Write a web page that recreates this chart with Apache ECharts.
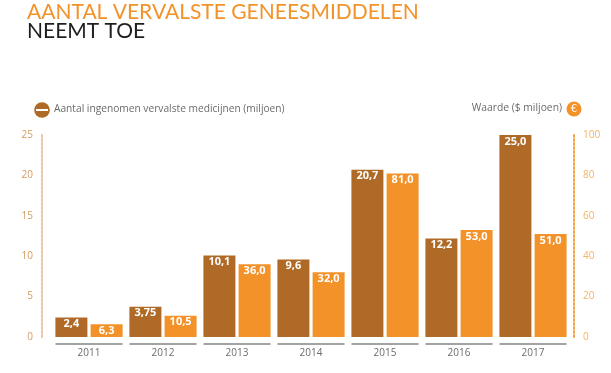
<!DOCTYPE html>
<html>
<head>
<meta charset="utf-8">
<script src="https://cdn.jsdelivr.net/npm/echarts@6/dist/echarts.min.js"></script>
<style>html,body{margin:0;padding:0;background:#fff;}#c{width:611px;height:373px;}</style>
</head>
<body>
<div id="c"></div>
<script>
const categories = ['2011', '2012', '2013', '2014', '2015', '2016', '2017'];
const aantal = [2.4, 3.75, 10.1, 9.6, 20.7, 12.2, 25.0];
const waarde = [6.3, 10.5, 36.0, 32.0, 81.0, 53.0, 51.0];
const titleLine1 = 'AANTAL VERVALSTE GENEESMIDDELEN';
const titleLine2 = 'NEEMT TOE';
const legendLeft = 'Aantal ingenomen vervalste medicijnen (miljoen)';
const legendRight = 'Waarde ($ miljoen)';

const BROWN = '#b06a27';
const ORANGE = '#f39229';
const fmt = v => (Number.isInteger(v) ? v.toFixed(1) : String(v)).replace('.', ',');

const chart = echarts.init(document.getElementById('c'));
chart.setOption({
  animation: false,
  title: [
    { text: titleLine1, left: 22, top: -3, textStyle: { color: ORANGE, fontSize: 21, fontWeight: 'normal', fontFamily: 'Lato' } },
    { text: titleLine2, left: 22, top: 16, textStyle: { color: '#1e1e1e', fontSize: 21, fontWeight: 'normal', fontFamily: 'Lato' } }
  ],
  graphic: [
    { type: 'circle', shape: { cx: 42, cy: 110, r: 7.8 }, style: { fill: BROWN } },
    { type: 'rect', shape: { x: 36, y: 109, width: 12, height: 2 }, style: { fill: '#fff' } },
    { type: 'text', left: 54, top: 104, style: { text: legendLeft, fill: '#6b6b6b', fontSize: 10.2, fontFamily: 'Open Sans' } },
    { type: 'text', right: 49, top: 103, style: { text: legendRight, fill: '#6b6b6b', fontSize: 10.3, fontFamily: 'Open Sans' } },
    { type: 'circle', shape: { cx: 574, cy: 109, r: 7.5 }, style: { fill: ORANGE } },
    { type: 'text', x: 574, y: 109, style: { text: '€', fill: '#fff', fontSize: 10, align: 'center', verticalAlign: 'middle', fontFamily: 'DejaVu Sans' } }
  ],
  grid: { left: 52, right: 41, top: 135, bottom: 36 },
  xAxis: {
    type: 'category',
    data: categories,
    axisLine: { show: false },
    axisTick: { show: false },
    axisLabel: { color: '#6b6b6b', fontSize: 10, margin: 11, fontFamily: 'Open Sans' }
  },
  yAxis: [
    {
      type: 'value', min: 0, max: 25, interval: 5, position: 'left', offset: 10,
      axisLine: { show: true, lineStyle: { color: '#e8c4a0', type: 'dotted', width: 2 } },
      axisTick: { show: false }, splitLine: { show: false },
      axisLabel: { color: '#d49a5e', fontSize: 10, margin: 9, fontFamily: 'Open Sans' }
    },
    {
      type: 'value', min: 0, max: 100, interval: 20, position: 'right', offset: 4,
      axisLine: { show: true, lineStyle: { color: '#f5a546', type: 'dotted', width: 2 } },
      axisTick: { show: false }, splitLine: { show: false },
      axisLabel: { color: '#f5b35e', fontSize: 10, margin: 9, fontFamily: 'Open Sans' }
    }
  ],
  series: [
    {
      name: legendLeft, type: 'bar', yAxisIndex: 0, data: aantal,
      barWidth: 32, barGap: '10%',
      itemStyle: { color: BROWN },
      label: { show: true, position: 'insideTop', distance: 1, color: '#fff', fontWeight: 'bold', fontSize: 11, fontFamily: 'Open Sans', formatter: p => fmt(p.value) }
    },
    {
      name: legendRight, type: 'bar', yAxisIndex: 1, data: waarde,
      barWidth: 32,
      itemStyle: { color: ORANGE },
      label: { show: true, position: 'insideTop', distance: 1, color: '#fff', fontWeight: 'bold', fontSize: 11, fontFamily: 'Open Sans', formatter: p => fmt(p.value) }
    },
    {
      type: 'custom', yAxisIndex: 0, silent: true,
      data: categories.map((c, i) => [i]),
      renderItem: function (params, api) {
        const p = api.coord([api.value(0), 0]);
        const w = api.size([1, 0])[0];
        return {
          type: 'line',
          shape: { x1: p[0] - w / 2 + 3.5, y1: p[1] + 7, x2: p[0] + w / 2 - 3.5, y2: p[1] + 7 },
          style: { stroke: '#a3a3a3', lineWidth: 2 }
        };
      }
    }
  ]
});
</script>
</body>
</html>
